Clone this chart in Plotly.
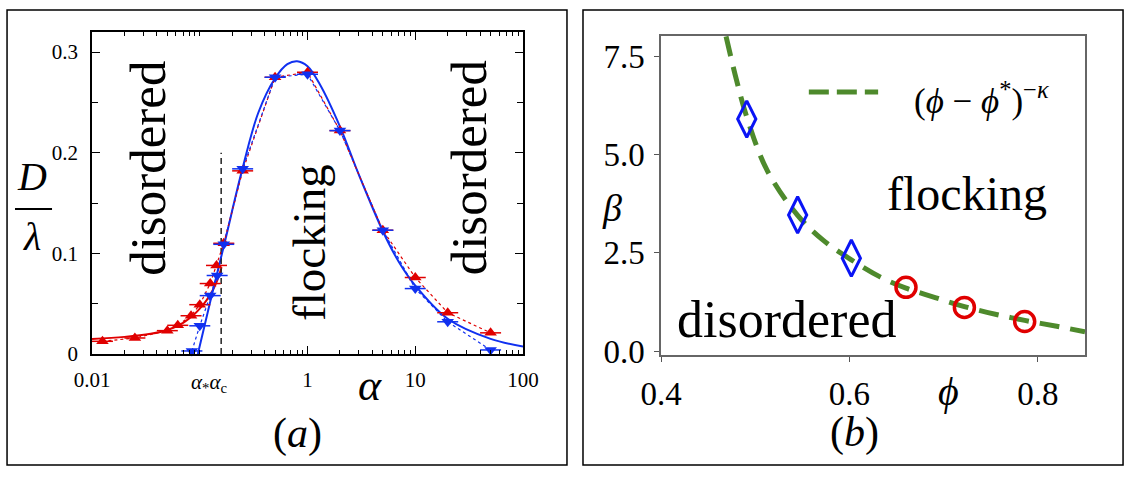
import plotly.graph_objects as go

# ---------------- Panel (a) data ----------------
red_alpha = [0.0125, 0.025, 0.05, 0.0625, 0.083, 0.1, 0.125, 0.143, 0.167, 0.25, 0.5, 1.0, 2.0, 5.0, 10.0, 20.0, 50.0]
red_D = [0.0126, 0.0159, 0.0232, 0.0285, 0.038, 0.049, 0.070, 0.088, 0.110, 0.182, 0.275, 0.280, 0.222, 0.123, 0.076, 0.041, 0.021]

blue_alpha = [0.0845, 0.1, 0.125, 0.145, 0.167, 0.25, 0.5, 1.0, 2.0, 5.0, 10.0, 20.0, 50.0]
blue_D = [0.003, 0.028, 0.058, 0.078, 0.109, 0.184, 0.275, 0.278, 0.222, 0.123, 0.065, 0.032, 0.004]

red_fit_alpha = [0.01, 0.02, 0.035, 0.05, 0.07, 0.09, 0.1, 0.115, 0.13, 0.145, 0.158]
red_fit_D = [0.0150, 0.0170, 0.0200, 0.0238, 0.031, 0.040, 0.045, 0.053, 0.062, 0.073, 0.085]

blue_fit_alpha = [0.096, 0.125, 0.167, 0.25, 0.35, 0.5, 0.65, 0.8, 1.0, 1.3, 2.0, 3.0, 5.0, 7.0, 10.0, 20.0, 50.0, 100.0]
blue_fit_D = [0.0, 0.052, 0.107, 0.185, 0.240, 0.274, 0.288, 0.291, 0.286, 0.268, 0.226, 0.178, 0.122, 0.092, 0.068, 0.035, 0.015, 0.0075]

alpha_c = 0.158
alpha_c_line_D = [0.0, 0.2]

a_xtickvals = [0.01, 1, 10, 100]
a_xticktext = ["0.01", "1", "10", "100"]
a_ytickvals = [0, 0.1, 0.2, 0.3]
a_yticktext = ["0", "0.1", "0.2", "0.3"]

# ---------------- Panel (b) data ----------------
diam_phi = [0.491, 0.545, 0.602]
diam_beta = [5.90, 3.46, 2.36]
circ_phi = [0.660, 0.722, 0.786]
circ_beta = [1.62, 1.11, 0.75]

fit_phi = [0.469, 0.480, 0.491, 0.5125, 0.545, 0.572, 0.602, 0.633, 0.660, 0.691, 0.722, 0.756, 0.786, 0.820, 0.850]
fit_beta = [8.0, 6.9, 5.95, 4.6, 3.45, 2.82, 2.32, 1.88, 1.60, 1.36, 1.13, 0.93, 0.78, 0.63, 0.49]

b_xtickvals = [0.4, 0.6, 0.8]
b_xticktext = ["0.4", "0.6", "0.8"]
b_ytickvals = [0.0, 2.5, 5.0, 7.5]
b_yticktext = ["0.0", "2.5", "5.0", "7.5"]

RED = "#e00000"
BLUE = "#1030f0"
DBLUE = "#0a14f5"
GREEN = "#4e8a2c"
FONT = "Liberation Serif"

fig = go.Figure()

# Panel (a) traces
fig.add_trace(go.Scatter(x=red_fit_alpha, y=red_fit_D, mode="lines", line=dict(color=RED, width=2, shape="spline"),
                         xaxis="x", yaxis="y", showlegend=False, hoverinfo="skip"))
fig.add_trace(go.Scatter(x=blue_fit_alpha, y=blue_fit_D, mode="lines", line=dict(color=BLUE, width=2, shape="spline"),
                         xaxis="x", yaxis="y", showlegend=False, hoverinfo="skip"))
fig.add_trace(go.Scatter(x=[alpha_c, alpha_c], y=alpha_c_line_D, mode="lines",
                         line=dict(color="#222222", width=1.5, dash="6px,4px"),
                         xaxis="x", yaxis="y", showlegend=False, hoverinfo="skip"))
fig.add_trace(go.Scatter(x=red_alpha, y=red_D, mode="lines+markers",
                         line=dict(color=RED, width=1.2, dash="dot"),
                         marker=dict(symbol="triangle-up", size=11, color=RED),
                         xaxis="x", yaxis="y", showlegend=False, cliponaxis=False))
fig.add_trace(go.Scatter(x=red_alpha, y=red_D, mode="markers",
                         marker=dict(symbol="line-ew-open", size=15, color=RED, line=dict(color=RED, width=1.5)),
                         xaxis="x", yaxis="y", showlegend=False, cliponaxis=False, hoverinfo="skip"))
fig.add_trace(go.Scatter(x=blue_alpha, y=blue_D, mode="lines+markers",
                         line=dict(color=BLUE, width=1.2, dash="dot"),
                         marker=dict(symbol="triangle-down", size=11, color=BLUE),
                         xaxis="x", yaxis="y", showlegend=False, cliponaxis=False))
fig.add_trace(go.Scatter(x=blue_alpha, y=blue_D, mode="markers",
                         marker=dict(symbol="line-ew-open", size=15, color=BLUE, line=dict(color=BLUE, width=1.5)),
                         xaxis="x", yaxis="y", showlegend=False, cliponaxis=False, hoverinfo="skip"))

# Panel (b) traces
fig.add_trace(go.Scatter(x=fit_phi, y=fit_beta, mode="lines",
                         line=dict(color=GREEN, width=5, dash="20px,11px", shape="spline"),
                         xaxis="x2", yaxis="y2", showlegend=False, name="fit"))
fig.add_trace(go.Scatter(x=diam_phi, y=diam_beta, mode="markers",
                         marker=dict(symbol="diamond-tall-open", size=26, color=DBLUE, line=dict(color=DBLUE, width=3)),
                         xaxis="x2", yaxis="y2", showlegend=False))
fig.add_trace(go.Scatter(x=circ_phi, y=circ_beta, mode="markers",
                         marker=dict(symbol="circle-open", size=20, color=RED, line=dict(color=RED, width=3.5)),
                         xaxis="x2", yaxis="y2", showlegend=False))

minor_log = [k * 10 ** e for e in range(-2, 2) for k in range(1 if e == -1 else 2, 10)]

fig.update_layout(
    width=1136, height=479, autosize=False,
    margin=dict(l=0, r=0, t=0, b=0, autoexpand=False),
    paper_bgcolor="white", plot_bgcolor="white",
    font=dict(family=FONT, color="black"),
    xaxis=dict(domain=[0.0810, 0.4604], type="log", range=[-2, 2],
               tickvals=a_xtickvals, ticktext=a_xticktext,
               ticks="inside", ticklen=8, tickwidth=1.3, tickcolor="black",
               minor=dict(tickvals=minor_log, ticks="inside", ticklen=4, tickcolor="black", tickwidth=1),
               showline=True, linecolor="black", linewidth=1.5, mirror="ticks",
               showgrid=False, zeroline=False, tickfont=dict(size=21, family=FONT, color="black"),
               ticklabelstandoff=6, anchor="y", automargin=False),
    yaxis=dict(domain=[0.2610, 0.9332], range=[0, 0.32],
               tickvals=a_ytickvals, ticktext=a_yticktext,
               ticks="inside", ticklen=8, tickwidth=1.3, tickcolor="black",
               minor=dict(dtick=0.05, ticks="inside", ticklen=6, tickcolor="black", tickwidth=1),
               showline=True, linecolor="black", linewidth=1.5, mirror="ticks",
               showgrid=False, zeroline=False, tickfont=dict(size=21, family=FONT, color="black"),
               ticklabelstandoff=8, anchor="x", automargin=False),
    xaxis2=dict(domain=[0.5819, 0.9551], range=[0.4, 0.85],
                tickvals=b_xtickvals, ticktext=b_xticktext,
                ticks="outside", ticklen=5, tickcolor="#555555", tickwidth=1,
                showline=True, linecolor="#666666", linewidth=1.5, mirror=True,
                showgrid=False, zeroline=False, tickfont=dict(size=33, family=FONT, color="black"),
                ticklabelstandoff=4, anchor="y2", automargin=False),
    yaxis2=dict(domain=[0.2589, 0.9248], range=[-0.1, 8.01],
                tickvals=b_ytickvals, ticktext=b_yticktext,
                ticks="outside", ticklen=5, tickcolor="#555555", tickwidth=1,
                showline=True, linecolor="#666666", linewidth=1.5, mirror=True,
                showgrid=False, zeroline=False, tickfont=dict(size=33, family=FONT, color="black"),
                ticklabelstandoff=3, anchor="x2", automargin=False),
    showlegend=False,
)

# panel frames
for x0, x1 in [(0.0062, 0.4991), (0.5132, 0.9886)]:
    fig.add_shape(type="rect", xref="paper", yref="paper", x0=x0, x1=x1, y0=0.0292, y1=0.979,
                  line=dict(color="black", width=1.5))

# D / lambda fraction bar
fig.add_shape(type="line", xref="paper", yref="paper", x0=0.0132, x1=0.0458, y0=0.5637, y1=0.5637,
              line=dict(color="black", width=2))
# legend sample for panel (b)
fig.add_shape(type="line", xref="paper", yref="paper", x0=0.712, x1=0.773, y0=0.808, y1=0.808,
              line=dict(color=GREEN, width=5, dash="20px,8px"))

def ann(text, x, y, size, angle=0):
    fig.add_annotation(text=text, x=x, y=y, xref="paper", yref="paper", showarrow=False,
                       font=dict(size=size, family=FONT, color="black"), textangle=angle,
                       xanchor="center", yanchor="middle")

# Panel (a) texts
ann("disordered", 0.130, 0.649, 51, -90)
ann("flocking", 0.272, 0.495, 47, -90)
ann("disordered", 0.413, 0.649, 51, -90)
ann("<i>D</i>", 0.0282, 0.632, 40)
ann("<i>λ</i>", 0.0282, 0.507, 40)
ann("<i>α</i>", 0.326, 0.196, 44)
ann("<i>α</i><sub>*</sub><i>α</i><sub>c</sub>", 0.184, 0.200, 21)
ann("(<i>a</i>)", 0.262, 0.096, 42)

# Panel (b) texts
ann("flocking", 0.851, 0.595, 48)
ann("disordered", 0.692, 0.334, 52)
ann("(<i>ϕ</i> − <i>ϕ</i><sup>*</sup>)<sup>−<i>κ</i></sup>", 0.864, 0.795, 35)
ann("<i>β</i>", 0.539, 0.566, 38)
ann("<i>ϕ</i>", 0.835, 0.182, 40)
ann("(<i>b</i>)", 0.752, 0.098, 42)

fig.write_html("out.html", config={"displayModeBar": False, "responsive": False},
               post_script="document.body.style.margin='0px';document.body.style.overflow='hidden';"
                           "document.documentElement.style.overflow='hidden';")
